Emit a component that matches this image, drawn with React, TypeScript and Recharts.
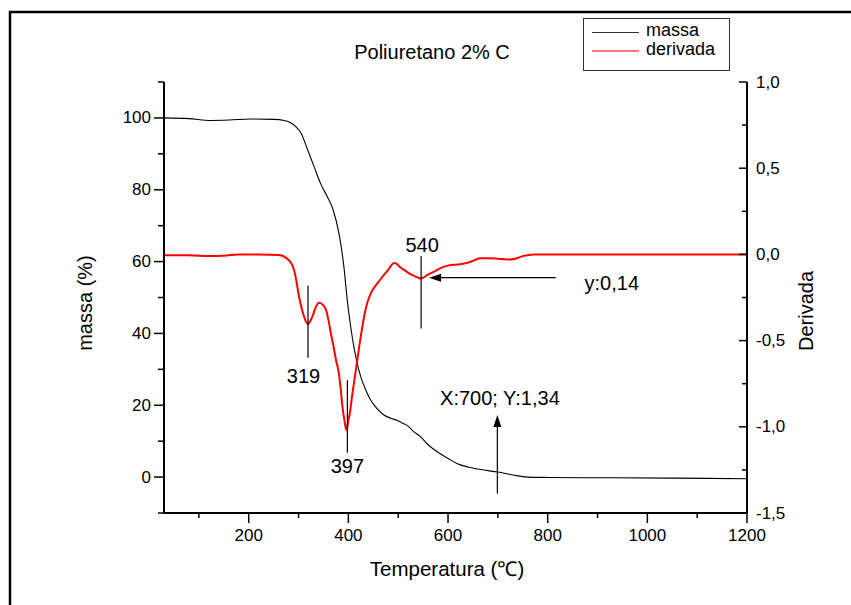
import React from 'react';
import { ComposedChart, Line, XAxis, YAxis, ReferenceLine, ReferenceDot } from 'recharts';

const FONT = '"Liberation Sans", Arial, sans-serif';

// Mass curve (temperature °C, mass %)
const massaT = [30, 80, 124, 160, 204, 250, 271, 285, 295, 305, 318, 331, 345, 358, 368, 381, 391, 398, 405, 411, 418, 425, 435, 445, 458, 472, 485, 498, 510, 518, 530, 545, 560, 579, 600, 619, 640, 665, 700, 730, 759, 800, 932, 1050, 1200];
const massaV = [100.0, 99.8, 99.3, 99.4, 99.7, 99.6, 99.3, 98.6, 97.5, 95.8, 91.2, 86.5, 81.5, 78.0, 75.0, 67.9, 58.6, 49.0, 41.5, 36.3, 31.5, 27.9, 24.2, 21.4, 19.0, 17.2, 16.4, 15.8, 14.9, 14.4, 12.8, 11.2, 9.0, 7.0, 5.2, 3.7, 2.8, 2.1, 1.4, 0.6, 0.0, -0.1, -0.2, -0.3, -0.45];

// Derivative curve (temperature °C, derivative)
const derivT = [30, 80, 120, 150, 180, 220, 260, 275, 285, 291, 296, 301, 306, 311, 315, 319, 323, 328, 334, 341, 348, 355, 360, 365, 370, 375, 381, 385, 388, 392, 395, 397, 399, 403, 408, 413, 418, 423, 428, 433, 438, 446, 455, 463, 471, 480, 487, 492, 497, 504, 512, 522, 532, 540, 545, 550, 558, 572, 585, 600, 620, 639, 652, 665, 680, 700, 720, 735, 750, 772, 900, 1000, 1100, 1200];
const derivV = [-0.005, -0.005, -0.01, -0.008, 0.0, 0.0, -0.003, -0.02, -0.05, -0.09, -0.16, -0.245, -0.31, -0.36, -0.39, -0.405, -0.39, -0.36, -0.31, -0.28, -0.29, -0.32, -0.38, -0.46, -0.53, -0.61, -0.69, -0.79, -0.88, -0.96, -1.01, -1.02, -0.98, -0.92, -0.81, -0.71, -0.61, -0.51, -0.42, -0.34, -0.28, -0.22, -0.18, -0.15, -0.12, -0.09, -0.06, -0.05, -0.055, -0.075, -0.09, -0.11, -0.125, -0.135, -0.14, -0.135, -0.12, -0.10, -0.08, -0.065, -0.058, -0.048, -0.035, -0.022, -0.022, -0.025, -0.03, -0.025, -0.01, 0.0, 0.0, 0.0, 0.0, 0.0];

// Tick values
const xTicks = [100, 200, 300, 400, 500, 600, 700, 800, 900, 1000, 1100, 1200];
const xMajor = [200, 400, 600, 800, 1000, 1200];
const leftTicks = [-10, 0, 10, 20, 30, 40, 50, 60, 70, 80, 90, 100, 110];
const leftMajor = [0, 20, 40, 60, 80, 100];
const rightTicks = [-1.5, -1.25, -1.0, -0.75, -0.5, -0.25, 0, 0.25, 0.5, 0.75, 1.0];
const rightMajor = [-1.5, -1.0, -0.5, 0, 0.5, 1.0];

// Annotations
const peakMarks = [
  { t: 319, y1: -0.18, y2: -0.6, label: '319', lt: 310, ly: -0.705 },
  { t: 398, y1: -0.73, y2: -1.15, label: '397', lt: 398, ly: -1.228 },
  { t: 546, y1: -0.009, y2: -0.43, label: '540', lt: 548, ly: 0.055 },
];

const massaData = massaT.map((t, i) => ({ t, massa: massaV[i] }));
const derivData = derivT.map((t, i) => ({ t, derivada: derivV[i] }));

const fmtComma = (v: number) => v.toFixed(1).replace('.', ',');

const LeftTick = (props: any) => {
  const { x, y, payload } = props;
  const v = payload.value;
  const major = leftMajor.includes(v);
  return (
    <g>
      <line x1={x} x2={x - (major ? 10 : 6)} y1={y} y2={y} stroke="#000" strokeWidth={1.5} />
      {major && (
        <text x={x - 13} y={y} textAnchor="end" dominantBaseline="central" fontSize={17} fontFamily={FONT} fill="#000">
          {v}
        </text>
      )}
    </g>
  );
};

const RightTick = (props: any) => {
  const { x, y, payload } = props;
  const v = payload.value;
  const major = rightMajor.some((m) => Math.abs(m - v) < 1e-9);
  return (
    <g>
      <line x1={x} x2={x - (major ? 8 : 5)} y1={y} y2={y} stroke="#000" strokeWidth={1.5} />
      {major && (
        <text x={x + 9} y={y} textAnchor="start" dominantBaseline="central" fontSize={17} fontFamily={FONT} fill="#000">
          {fmtComma(v)}
        </text>
      )}
    </g>
  );
};

const BottomTick = (props: any) => {
  const { x, y, payload } = props;
  const v = payload.value;
  const major = xMajor.includes(v);
  return (
    <g>
      <line x1={x} x2={x} y1={y} y2={y + (major ? 10 : 5)} stroke="#000" strokeWidth={1.5} />
      {major && (
        <text x={x} y={y + 22} textAnchor="middle" dominantBaseline="central" fontSize={17} fontFamily={FONT} fill="#000">
          {v}
        </text>
      )}
    </g>
  );
};

const Arrow = (props: any) => {
  const { x1, y1, x2, y2 } = props;
  if ([x1, y1, x2, y2].some((n) => typeof n !== 'number' || isNaN(n))) return null;
  const ang = Math.atan2(y2 - y1, x2 - x1);
  const L = 12;
  const W = 4;
  const bx = x2 - L * Math.cos(ang);
  const by = y2 - L * Math.sin(ang);
  const px = -Math.sin(ang) * W;
  const py = Math.cos(ang) * W;
  return (
    <g>
      <line x1={x1} y1={y1} x2={bx} y2={by} stroke="#000" strokeWidth={1.2} />
      <polygon points={`${x2},${y2} ${bx + px},${by + py} ${bx - px},${by - py}`} fill="#000" />
    </g>
  );
};

const textShape = (txt: string, anchor: 'start' | 'middle') => (p: any) => (
  <text x={p.cx} y={p.cy} textAnchor={anchor} dominantBaseline="central" fontSize={20} fontFamily={FONT} fill="#000">
    {txt}
  </text>
);

export default function App() {
  return (
    <div style={{ position: 'absolute', left: 0, top: 0, width: 851, height: 605, background: '#fff' }}>
      <ComposedChart width={851} height={605} margin={{ top: 82, right: 44, bottom: 62, left: 100 }}>
        <XAxis
          type="number"
          dataKey="t"
          domain={[30, 1200]}
          allowDataOverflow
          ticks={xTicks}
          interval={0}
          tickSize={0}
          tickMargin={0}
          tickLine={false}
          height={30}
          axisLine={{ stroke: '#000', strokeWidth: 2 }}
          tick={<BottomTick />}
        />
        <YAxis
          yAxisId="l"
          orientation="left"
          type="number"
          domain={[-10, 110]}
          allowDataOverflow
          ticks={leftTicks}
          interval={0}
          tickSize={0}
          tickMargin={0}
          tickLine={false}
          width={64}
          axisLine={{ stroke: '#000', strokeWidth: 2 }}
          tick={<LeftTick />}
        />
        <YAxis
          yAxisId="r"
          orientation="right"
          type="number"
          domain={[-1.5, 1.0]}
          allowDataOverflow
          ticks={rightTicks}
          interval={0}
          tickSize={0}
          tickMargin={0}
          tickLine={false}
          width={60}
          axisLine={{ stroke: '#000', strokeWidth: 2 }}
          tick={<RightTick />}
        />
        <Line
          data={massaData}
          yAxisId="l"
          dataKey="massa"
          type="monotone"
          stroke="#000"
          strokeWidth={1.1}
          dot={false}
          isAnimationActive={false}
        />
        <Line
          data={derivData}
          yAxisId="r"
          dataKey="derivada"
          type="monotone"
          stroke="#ff0000"
          strokeWidth={2}
          dot={false}
          isAnimationActive={false}
        />
        {peakMarks.map((m) => (
          <ReferenceLine
            key={'l' + m.label}
            yAxisId="r"
            segment={[{ x: m.t, y: m.y1 }, { x: m.t, y: m.y2 }]}
            stroke="#000"
            strokeWidth={1.2}
          />
        ))}
        {peakMarks.map((m) => (
          <ReferenceDot key={'t' + m.label} yAxisId="r" x={m.lt} y={m.ly} r={1} shape={textShape(m.label, 'middle')} />
        ))}
        <ReferenceLine
          yAxisId="r"
          segment={[{ x: 816, y: -0.135 }, { x: 562, y: -0.135 }]}
          stroke="#000"
          shape={<Arrow />}
        />
        <ReferenceDot yAxisId="r" x={874} y={-0.167} r={1} shape={textShape('y:0,14', 'start')} />
        <ReferenceLine
          yAxisId="r"
          segment={[{ x: 699, y: -1.387 }, { x: 699, y: -0.932 }]}
          stroke="#000"
          shape={<Arrow />}
        />
        <ReferenceDot yAxisId="r" x={584} y={-0.835} r={1} shape={textShape('X:700; Y:1,34', 'start')} />
      </ComposedChart>
      <svg width={851} height={605} style={{ position: 'absolute', left: 0, top: 0, pointerEvents: 'none' }}>
        <path d="M10,605 L10,12 L851,12" fill="none" stroke="#000" strokeWidth={2.5} />
        <text x={432} y={52} textAnchor="middle" dominantBaseline="central" fontSize={20} fontFamily={FONT} fill="#000">
          Poliuretano 2% C
        </text>
        <text x={85} y={303} transform="rotate(-90 85 303)" textAnchor="middle" dominantBaseline="central" fontSize={20} fontFamily={FONT} fill="#000">
          massa (%)
        </text>
        <text x={806} y={311} transform="rotate(-90 806 311)" textAnchor="middle" dominantBaseline="central" fontSize={20} fontFamily={FONT} fill="#000">
          Derivada
        </text>
        <text x={447} y={568} textAnchor="middle" dominantBaseline="central" fontSize={20.5} fontFamily={FONT} fill="#000">
          Temperatura (℃)
        </text>
        <rect x={583.5} y={18.5} width={146} height={52} fill="#fff" stroke="#333" strokeWidth={1} />
        <line x1={592} x2={639} y1={32.5} y2={32.5} stroke="#333" strokeWidth={1} />
        <text x={646} y={29.5} dominantBaseline="central" fontSize={18} fontFamily={FONT} fill="#000">massa</text>
        <line x1={592} x2={639} y1={51} y2={51} stroke="#ff4d4d" strokeWidth={1.5} />
        <text x={646} y={49} dominantBaseline="central" fontSize={18} fontFamily={FONT} fill="#000">derivada</text>
      </svg>
    </div>
  );
}
